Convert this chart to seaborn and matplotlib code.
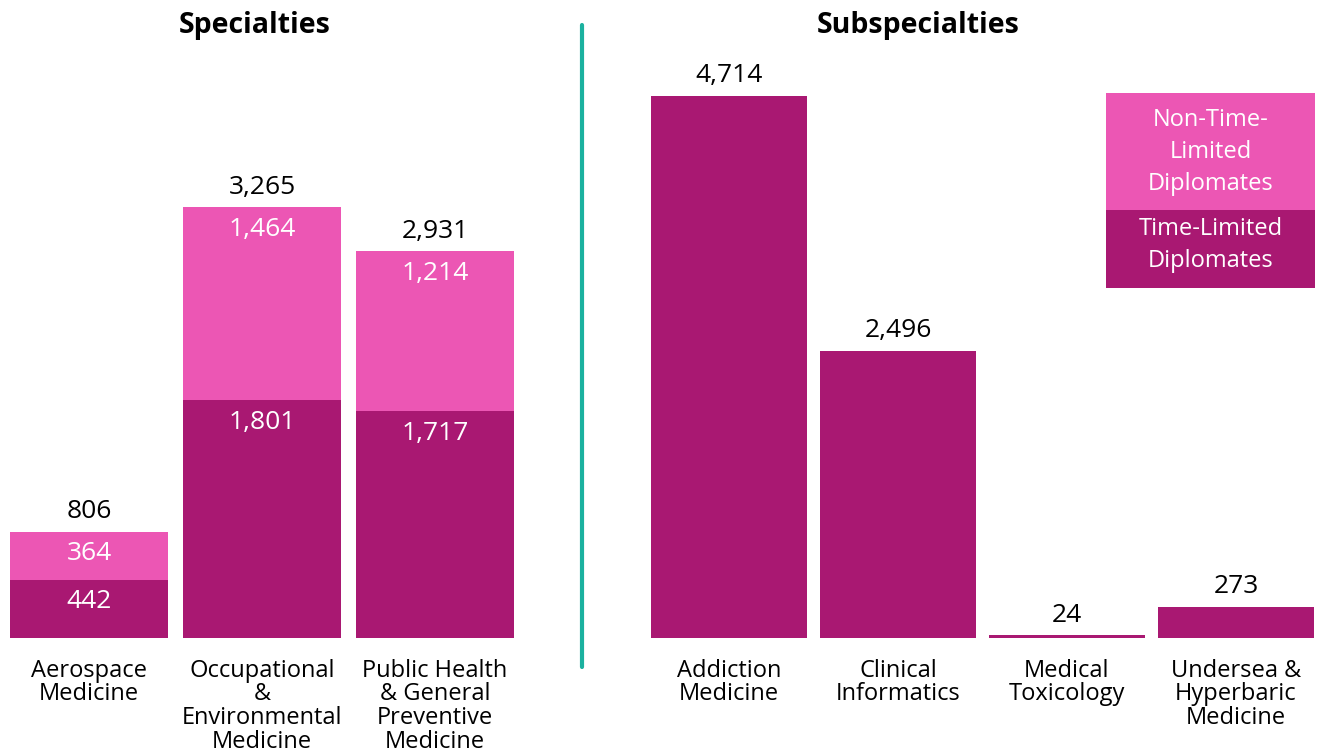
import numpy as np
import pandas as pd
import matplotlib
matplotlib.use("Agg")
import matplotlib.pyplot as plt
import seaborn as sns
from matplotlib.lines import Line2D
from matplotlib.patches import Rectangle

# data
spec_names = ["Aerospace\nMedicine", "Occupational\n&\nEnvironmental\nMedicine",
              "Public Health\n& General\nPreventive\nMedicine"]
spec_time_limited = [442, 1801, 1717]
spec_non_time_limited = [364, 1464, 1214]

sub_names = ["Addiction\nMedicine", "Clinical\nInformatics", "Medical\nToxicology",
             "Undersea &\nHyperbaric\nMedicine"]
sub_time_limited = [4714, 2496, 24, 273]

DARK = "#A91872"
PINK = "#EC56B4"
TEAL = "#1BB19F"

sns.set_theme(style="white")
plt.rcParams["font.family"] = ["Open Sans", "DejaVu Sans"]
plt.rcParams["text.color"] = "black"
plt.rcParams["xtick.color"] = "black"

W, H = 1317, 752
fig = plt.figure(figsize=(W / 100, H / 100), dpi=100)

base_px = 638
top_px = 40
h_frac = (base_px - top_px) / H
bottom = (H - base_px) / H

# left axes: centres at 89, 262, 435 px
ax1 = fig.add_axes([(89 - 86.5) / W, bottom, 519 / W, h_frac])
# right axes: centres at 729 ... 1236 px
ax2 = fig.add_axes([(729 - 84.5) / W, bottom, 4 * 169 / W, h_frac])


def fmt(v):
    return f"{v:,}"


VAL_FS = 19

# specialties (stacked)
spec = pd.DataFrame({"name": spec_names,
                     "tl": spec_time_limited,
                     "ntl": spec_non_time_limited})
spec["total"] = spec["tl"] + spec["ntl"]
sns.barplot(data=spec, x="name", y="total", color=PINK, saturation=1,
            width=0.913, linewidth=0, ax=ax1)
sns.barplot(data=spec, x="name", y="tl", color=DARK, saturation=1,
            width=0.913, linewidth=0, ax=ax1)
ylim1 = (base_px - top_px) / 0.132
ax1.set_ylim(0, ylim1)
ax1.set_xlim(-0.5, 2.5)
px1 = ylim1 / (base_px - top_px)
for i, r in spec.iterrows():
    ax1.text(i, r["total"] + 20 * px1, fmt(r["total"]), ha="center", va="center",
             fontsize=VAL_FS, color="black")
    ax1.text(i, r["total"] - 22 * px1, fmt(r["ntl"]), ha="center", va="center",
             fontsize=VAL_FS, color="white")
    ax1.text(i, r["tl"] - 22 * px1, fmt(r["tl"]), ha="center", va="center",
             fontsize=VAL_FS, color="white")

# subspecialties
sub = pd.DataFrame({"name": sub_names, "tl": sub_time_limited})
sns.barplot(data=sub, x="name", y="tl", color=DARK, saturation=1,
            width=0.923, linewidth=0, ax=ax2)
ylim2 = (base_px - top_px) / 0.115
ax2.set_ylim(0, ylim2)
ax2.set_xlim(-0.5, 3.5)
px2 = ylim2 / (base_px - top_px)
for i, r in sub.iterrows():
    ax2.text(i, r["tl"] + 20 * px2, fmt(r["tl"]), ha="center", va="center",
             fontsize=VAL_FS, color="black")

for ax in (ax1, ax2):
    ax.set_xlabel("")
    ax.set_ylabel("")
    ax.set_yticks([])
    ax.tick_params(axis="x", length=0, pad=15, labelsize=17, labelcolor="black")
    for lab in ax.get_xticklabels():
        lab.set_linespacing(0.98)
        lab.set_verticalalignment("top")
    sns.despine(ax=ax, left=True, bottom=True)
    ax.patch.set_alpha(0)

fig.text(255 / W, 1 - 25 / H, "Specialties", ha="center", va="center",
         fontsize=20.5, fontweight="bold")
fig.text(918 / W, 1 - 25 / H, "Subspecialties", ha="center", va="center",
         fontsize=20.5, fontweight="bold")

# divider
fig.add_artist(Line2D([582 / W, 582 / W], [1 - 25 / H, 1 - 667 / H],
                      color=TEAL, lw=3, transform=fig.transFigure))

# legend block
lx, lw_ = 1106 / W, 209 / W
fig.add_artist(Rectangle((lx, 1 - 210 / H), lw_, 117 / H, color=PINK,
                         lw=0, transform=fig.transFigure))
fig.add_artist(Rectangle((lx, 1 - 288 / H), lw_, 78 / H, color=DARK,
                         lw=0, transform=fig.transFigure))
fig.text(lx + lw_ / 2, 1 - 152 / H, "Non-Time-\nLimited\nDiplomates", ha="center",
         va="center", color="white", fontsize=17, linespacing=1.42)
fig.text(lx + lw_ / 2, 1 - 245 / H, "Time-Limited\nDiplomates", ha="center",
         va="center", color="white", fontsize=17, linespacing=1.42)

fig.savefig("out.png", dpi=100)
